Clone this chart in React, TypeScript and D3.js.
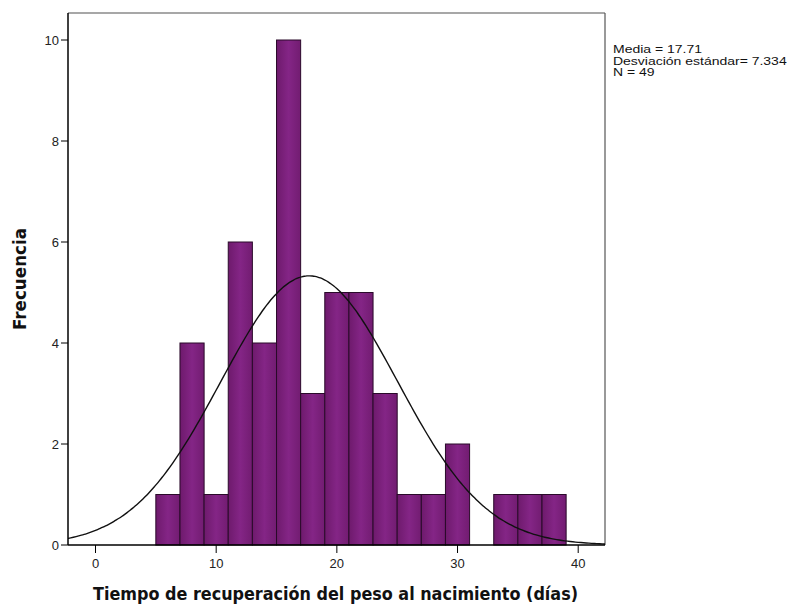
import React from "react";
import * as d3 from "d3";

// Histogram bins (días): lower edges and counts, bin width 2
const binStarts = [5, 7, 9, 11, 13, 15, 17, 19, 21, 23, 25, 27, 29, 31, 33, 35, 37];
const binCounts = [1, 4, 1, 6, 4, 10, 3, 5, 5, 3, 1, 1, 2, 0, 1, 1, 1];
const binWidth = 2;

const xTicks = [0, 10, 20, 30, 40];
const yTicks = [0, 2, 4, 6, 8, 10];

const mean = 17.71;
const sd = 7.334;
const n = 49;

const statsLines = ["Media = 17.71", "Desviación estándar= 7.334", "N = 49"];

const W = 793;
const H = 606;
const plot = { left: 68, right: 605, top: 13, bottom: 545 };

export default function App() {
  const x = d3.scaleLinear().domain([0, 40]).range([95.5, 578.2]);
  const y = d3.scaleLinear().domain([0, 10]).range([plot.bottom, 40]);

  const xMin = x.invert(plot.left);
  const xMax = x.invert(plot.right);

  // expected frequency per bin under the fitted normal curve
  const pdf = (v: number) =>
    (n * binWidth) / (sd * Math.sqrt(2 * Math.PI)) * Math.exp(-0.5 * ((v - mean) / sd) ** 2);
  const curvePts = d3.range(0, 201).map((i) => {
    const v = xMin + ((xMax - xMin) * i) / 200;
    return [x(v), y(pdf(v))] as [number, number];
  });
  const curve = d3.line().curve(d3.curveBasis)(curvePts) ?? "";

  const tickFont = "'Liberation Sans', Arial, sans-serif";
  const titleFont = "'DejaVu Sans', Verdana, sans-serif";

  return (
    <svg width={W} height={H} style={{ position: "absolute", left: 0, top: 0, background: "#fff" }}>
      <rect x={0} y={0} width={W} height={H} fill="#fff" />
      <defs>
        <linearGradient id="barFill" x1="0" x2="1" y1="0" y2="0">
          <stop offset="0" stopColor="#6e1a6c" />
          <stop offset="0.5" stopColor="#842586" />
          <stop offset="1" stopColor="#721c71" />
        </linearGradient>
      </defs>

      {/* frame */}
      <line x1={plot.left} x2={plot.right} y1={plot.top} y2={plot.top} stroke="#8a8a8a" strokeWidth={1.5} />
      <line x1={plot.right} x2={plot.right} y1={plot.top} y2={plot.bottom} stroke="#555" strokeWidth={1.2} />

      {/* bars */}
      {binStarts.map((s, i) =>
        binCounts[i] > 0 ? (
          <rect
            key={s}
            x={x(s)}
            y={y(binCounts[i])}
            width={x(s + binWidth) - x(s)}
            height={y(0) - y(binCounts[i])}
            fill="url(#barFill)"
            stroke="#2a0a2a"
            strokeWidth={1}
          />
        ) : null
      )}

      {/* normal curve */}
      <path d={curve} fill="none" stroke="#111" strokeWidth={1.4} />

      {/* axes */}
      <line x1={plot.left} x2={plot.left} y1={plot.top} y2={plot.bottom} stroke="#000" strokeWidth={1.5} />
      <line x1={plot.left} x2={plot.right} y1={plot.bottom} y2={plot.bottom} stroke="#000" strokeWidth={1.5} />

      {yTicks.map((t) => (
        <g key={t}>
          <line x1={plot.left - 7} x2={plot.left} y1={y(t)} y2={y(t)} stroke="#000" strokeWidth={1} />
          <text x={plot.left - 9} y={y(t) + 4.5} textAnchor="end" fontFamily={tickFont} fontSize={13} fill="#222">
            {t}
          </text>
        </g>
      ))}
      {xTicks.map((t) => (
        <g key={t}>
          <line x1={x(t)} x2={x(t)} y1={plot.bottom} y2={plot.bottom + 8} stroke="#000" strokeWidth={1} />
          <text x={x(t)} y={plot.bottom + 23} textAnchor="middle" fontFamily={tickFont} fontSize={13} fill="#222">
            {t}
          </text>
        </g>
      ))}

      <text
        transform={`translate(26, 279) rotate(-90)`}
        textAnchor="middle"
        fontFamily={titleFont}
        fontWeight="bold"
        fontSize={17}
        textLength={102}
        lengthAdjust="spacingAndGlyphs"
        fill="#111"
      >
        Frecuencia
      </text>
      <text
        x={335.5}
        y={600}
        textAnchor="middle"
        fontFamily={titleFont}
        fontWeight="bold"
        fontSize={17}
        textLength={485}
        lengthAdjust="spacingAndGlyphs"
        fill="#111"
      >
        Tiempo de recuperación del peso al nacimiento (días)
      </text>

      {/* summary statistics */}
      <g transform="translate(613, 0) scale(1.25, 1)">
        {statsLines.map((s, i) => (
          <text key={s} x={0} y={53 + i * 11.6} fontFamily={tickFont} fontSize={11.2} fill="#111">
            {s}
          </text>
        ))}
      </g>
    </svg>
  );
}
